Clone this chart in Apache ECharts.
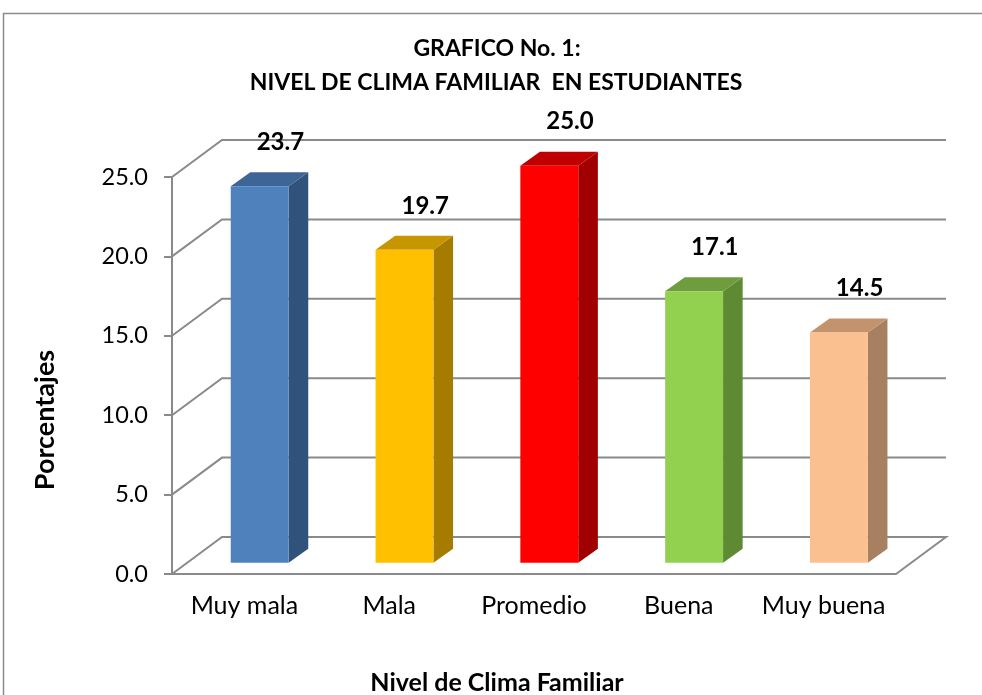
<!DOCTYPE html>
<html>
<head>
<meta charset="utf-8">
<script src="https://cdn.jsdelivr.net/npm/echarts@6/dist/echarts.min.js"></script>
<style>
html, body { margin: 0; padding: 0; background: #fff; }
#main { width: 982px; height: 695px; }
</style>
</head>
<body>
<div id="main"></div>
<script>
// datos del grafico
var categorias = ['Muy mala', 'Mala', 'Promedio', 'Buena', 'Muy buena'];
var porcentajes = [23.7, 19.7, 25.0, 17.1, 14.5];
var marcasY = [0, 5, 10, 15, 20, 25];

// colores de cada barra: cara frontal, tapa y lado
var colorFrente = ['#4F81BD', '#FFC000', '#FF0000', '#92D050', '#FAC090'];
var colorTapa = ['#3D6595', '#C69500', '#C00000', '#6F9D3D', '#C3936D'];
var colorLado = ['#31527B', '#A67C00', '#A00000', '#5E8A33', '#A68060'];

var gris = '#8a8a8a';
var fuente = 'Lato';
var prof = [50, -37];        // profundidad de las paredes
var frente = [15.3, -11.3];  // donde empieza la barra
var fondoBarra = [19.6, -14]; // grosor de la barra

// paredes: lineas de fondo + diagonales
function paredes(params, api) {
    var v = api.value(1);
    var p = api.coord([0, v]);
    var cs = params.coordSys;
    var x0 = cs.x, x1 = cs.x + cs.width, y = p[1];
    var pts = [[x0, y], [x0 + prof[0], y + prof[1]], [x1 + prof[0], y + prof[1]]];
    if (v === 0) pts.push([x1, y]);
    return {
        type: 'polyline',
        shape: { points: pts },
        style: { stroke: gris, lineWidth: 2, fill: null }
    };
}

function barras3d(params, api) {
    var i = api.value(0), v = api.value(1);
    var tope = api.coord([i, v]), base = api.coord([i, 0]);
    var w = api.size([1, 0])[0] * 0.4;
    var xl = tope[0] - w / 2 + frente[0], xr = xl + w;
    var yt = tope[1] + frente[1], yb = base[1] + frente[1];
    var dx = fondoBarra[0], dy = fondoBarra[1];
    return {
        type: 'group',
        children: [
            { type: 'polygon', shape: { points: [[xr, yb], [xr + dx, yb + dy], [xr + dx, yt + dy], [xr, yt]] },
              style: { fill: colorLado[i] } },
            { type: 'polygon', shape: { points: [[xl, yt], [xl + dx, yt + dy], [xr + dx, yt + dy], [xr, yt]] },
              style: { fill: colorTapa[i] } },
            { type: 'rect', shape: { x: xl, y: yt, width: w, height: yb - yt },
              style: { fill: colorFrente[i] } },
            { type: 'text', x: tope[0] + 36, y: yt + dy - 30,
              style: { text: v.toFixed(1), fill: '#000', fontFamily: fuente, fontWeight: 'bold', fontSize: 24,
                       align: 'center', verticalAlign: 'middle' } }
        ]
    };
}

var myChart = echarts.init(document.getElementById('main'));

var option = {
    animation: false,
    grid: {
        left: 172,
        right: 86,
        top: 177,
        bottom: 121,
        containLabel: false,
        outerBoundsMode: 'none'
    },
    xAxis: {
        type: 'category',
        data: categorias,
        boundaryGap: true,
        axisLine: { show: true, lineStyle: { color: gris, width: 2 } },
        axisTick: { show: false },
        axisLabel: { interval: 0, color: '#000', fontFamily: fuente, fontSize: 25, margin: 19 }
    },
    yAxis: {
        type: 'value',
        min: 0,
        max: 25,
        interval: 5,
        axisLine: { show: true, lineStyle: { color: gris, width: 2 } },
        axisTick: { show: true, length: 8, lineStyle: { color: gris, width: 2 } },
        splitLine: { show: false },
        axisLabel: {
            color: '#000', fontFamily: fuente, fontSize: 23.5, margin: 24,
            formatter: function (v) { return v.toFixed(1); }
        }
    },
    graphic: [
        { type: 'rect', shape: { x: 3.5, y: 13.5, width: 1000, height: 700 },
          style: { fill: null, stroke: '#8c8c8c', lineWidth: 1.5 }, silent: true },
        { type: 'text', x: 497, y: 49,
          style: { text: 'GRAFICO No. 1:', fill: '#000', font: 'bold 23px Lato', textAlign: 'center', textVerticalAlign: 'middle' } },
        { type: 'text', x: 496, y: 83,
          style: { text: 'NIVEL DE CLIMA FAMILIAR  EN ESTUDIANTES', fill: '#000', font: 'bold 23px Lato', textAlign: 'center', textVerticalAlign: 'middle' } },
        { type: 'text', x: 45, y: 420, rotation: Math.PI / 2,
          style: { text: 'Porcentajes', fill: '#000', font: 'bold 27px Lato', textAlign: 'center', textVerticalAlign: 'middle' } },
        { type: 'text', x: 497, y: 683,
          style: { text: 'Nivel de Clima Familiar', fill: '#000', font: 'bold 25px Lato', textAlign: 'center', textVerticalAlign: 'middle' } }
    ],
    series: [
        {
            type: 'custom',
            name: 'paredes',
            renderItem: paredes,
            encode: { x: 0, y: 1 },
            data: marcasY.map(function (v) { return [0, v]; }),
            z: 1,
            silent: true
        },
        {
            type: 'custom',
            name: 'Porcentaje',
            renderItem: barras3d,
            encode: { x: 0, y: 1 },
            data: porcentajes.map(function (v, i) { return [i, v]; }),
            z: 5
        }
    ]
};
myChart.setOption(option);
</script>
</body>
</html>
